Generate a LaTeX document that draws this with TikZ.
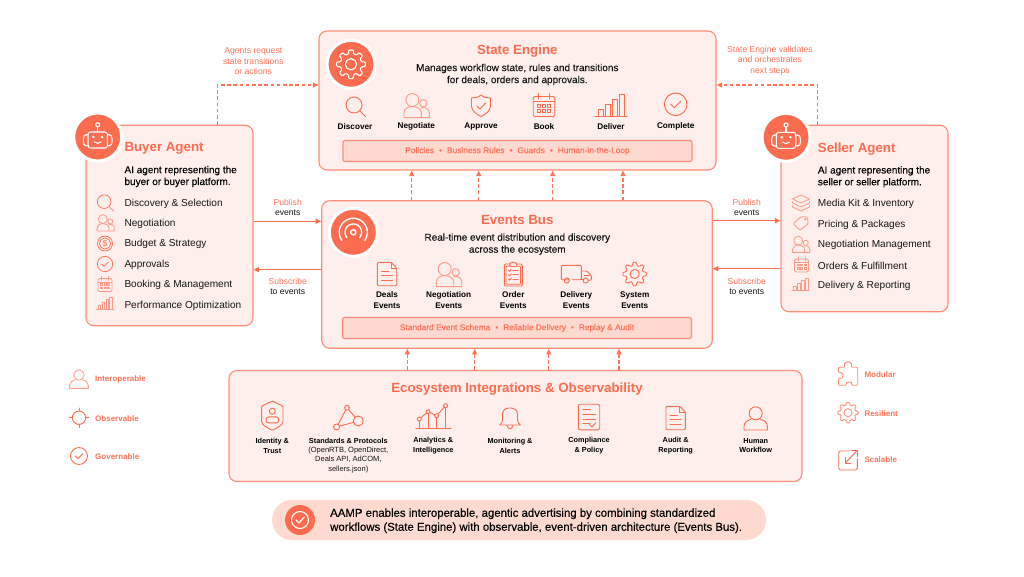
\documentclass[tikz,border=0pt]{standalone}
\usepackage{fontspec}
\setmainfont{Liberation Sans}
\newfontfamily\fmed[FakeBold=.22]{Liberation Sans}
\usetikzlibrary{arrows.meta}
\definecolor{coral}{HTML}{FC6C4E}
\definecolor{coraltxt}{HTML}{FF7358}
\definecolor{boxline}{HTML}{FF8E78}
\definecolor{boxfill}{HTML}{FEEEEC}
\definecolor{barfill}{HTML}{FDD9D0}
\definecolor{lite}{HTML}{FF9B86}
\definecolor{inkc}{HTML}{161616}
\definecolor{dashc}{HTML}{FF7558}
\tikzset{
 box/.style={draw=boxline,fill=boxfill,line width=1.1pt,rounded corners=8pt,inner sep=0pt},
 barbox/.style={draw=boxline,fill=barfill,line width=1.1pt,rounded corners=2pt,inner sep=0pt,text=coraltxt,font=\fontsize{8.35}{10}\selectfont\fmed},
 disc/.style={circle,fill=coral,draw=white,line width=3pt,minimum size=48pt,inner sep=0pt},
 ttl/.style={inner sep=0pt,yshift=-1.5pt,text=coral,font=\fontsize{13.3}{15}\selectfont\bfseries},
 desc/.style={inner sep=0pt,yshift=-.8pt,align=center,text=inkc,font=\fontsize{10}{12}\selectfont\fmed},
 descb/.style={inner sep=0pt,yshift=-.6pt,align=left,anchor=west,text=black,font=\fontsize{10}{11.8}\selectfont\fmed},
 item/.style={inner sep=0pt,yshift=-1.2pt,anchor=west,text=inkc,font=\fontsize{10.1}{12}\selectfont},
 lab/.style={inner sep=0pt,yshift=-.7pt,align=center,text=black,font=\fontsize{8.2}{11}\selectfont\bfseries},
 elab/.style={inner sep=0pt,yshift=-.7pt,align=center,text=black,font=\fontsize{7.3}{9.4}\selectfont\bfseries},
 esub/.style={inner sep=0pt,yshift=-.7pt,align=center,text=inkc,font=\fontsize{7.5}{9.4}\selectfont},
 note/.style={inner sep=0pt,yshift=-1pt,align=center,text=coraltxt,font=\fontsize{8.6}{10.3}\selectfont},
 blk/.style={inner sep=0pt,yshift=-1pt,align=center,text=inkc,font=\fontsize{8.6}{10.3}\selectfont},
 leg/.style={inner sep=0pt,yshift=-.5pt,anchor=west,text=coraltxt,font=\fontsize{8}{10}\selectfont\bfseries},
 ico/.style={color=coral,line width=.9pt,line join=round,line cap=round},
 lico/.style={color=lite,line width=.8pt,line join=round,line cap=round},
 mico/.style={color=coral,line width=.7pt,line join=round,line cap=round},
 wico/.style={color=white,line width=1.1pt,line join=round,line cap=round},
 flow/.style={draw=coral,line width=.9pt,-{Triangle[length=5.5pt,width=5pt]}},
 dflow/.style={draw=dashc,line width=1.05pt,dash pattern=on 3.6pt off 2.6pt,-{Triangle[length=5.5pt,width=5pt]}},
 pics/icmag/.style={code={\draw (-1,-1) circle (8); \draw (5,5)--(10.5,10.5);}},
 pics/icpeople/.style={code={
   \draw (7,-1.7) circle (3.7);
   \draw (5,3) .. controls (6,2.4) and (8,2.4) .. (9.5,3) .. controls (12,4) and (13,5.5) .. (13,8) -- (13,12.6) -- (5,12.6);
   \draw (-4,-5) circle (6.5);
   \draw (-12.3,12.6) -- (-12.3,8) .. controls (-12.3,3.5) and (-8,1.5) .. (-4,1.5) .. controls (0,1.5) and (5,3.5) .. (5,8) -- (5,12.6) -- cycle;}},
 pics/icshield/.style={code={
   \draw (0,-10) .. controls (3,-7.5) and (6,-7) .. (9.5,-7) -- (9.5,1) .. controls (9.5,6) and (4,9.5) .. (0,11.5) .. controls (-4,9.5) and (-9.5,6) .. (-9.5,1) -- (-9.5,-7) .. controls (-6,-7) and (-3,-7.5) .. cycle;
   \draw (-4,1)--(-1,4)--(4.5,-2);}},
 pics/iccal/.style={code={
   \draw[rounded corners=1.5pt] (-10.8,-8.5) rectangle (10.8,11.5);
   \draw (-10.8,-3.2)--(10.8,-3.2);
   \draw (-5.5,-11.5)--(-5.5,-6); \draw (5.5,-11.5)--(5.5,-6);
   \foreach \u in {-6.8,-1.5,3.8}{\draw (\u,-.5) rectangle +(3,2.6); \draw (\u,4.8) rectangle +(3,2.6);}}},
 pics/icbars/.style={code={
   \draw (-16,11)--(16,11);
   \foreach \u/\v in {-13/4,-5.5/-1,1.7/-6,8.7/-10.7}{\draw (\u,11) -- (\u,\v) -- (\u+5.2,\v) -- (\u+5.2,11);}}},
 pics/iccheck/.style={code={\draw (0,0) circle (11.3); \draw (-5,0)--(-1.5,3.5)--(5,-3);}},
 pics/icgear/.style={code={
   \draw[rounded corners=1pt] (-14:10.6) foreach \a in {0,45,...,270}{ -- (\a-9:14.5) -- (\a+9:14.5) -- (\a+14:10.6) -- (\a+31:10.6)} -- (306:14.5) -- (324:14.5) -- (329:10.6) -- cycle;
   \draw (0,0) circle (5.6);}},
 pics/icrobot/.style={code={
   \draw[rounded corners=2.5pt] (-9.7,-5) rectangle (9.7,11);
   \draw[rounded corners=1.5pt] (-9.7,-2.3) -- (-13,-2.3) -- (-14.3,0) -- (-14.3,6.5) -- (-13,8.7) -- (-9.7,8.7);
   \draw[rounded corners=1.5pt] (9.7,-2.3) -- (13,-2.3) -- (14.3,0) -- (14.3,6.5) -- (13,8.7) -- (9.7,8.7);
   \draw (0,-5)--(0,-10.3); \draw (0,-12.3) circle (2);
   \fill (-4.3,0) circle (1.5); \fill (4.3,0) circle (1.5);
   \draw (-3.5,4.8) .. controls (-1.5,6.8) and (1.5,6.8) .. (3.5,4.8);}},
 pics/icwave/.style={code={
   \draw (0,0) circle (2.6);
   \draw plot[domain=-40:220,samples=40] ({8.3*cos(\x)},{-8.3*sin(\x)});
   \draw plot[domain=-35:215,samples=40] ({14*cos(\x)},{-14*sin(\x)});}},
 pics/icdoc/.style={code={
   \draw[rounded corners=1.2pt] (-9.7,-11.7) -- (4,-11.7) -- (9.7,-6) -- (9.7,11.7) -- (-9.7,11.7) -- cycle;
   \draw (4,-11.7)--(4,-6)--(9.7,-6);
   \draw (-5.5,-3)--(2,-3); \draw (-5.5,1.5)--(5.5,1.5); \draw (-5.5,6)--(5.5,6);}},
 pics/icclip/.style={code={
   \draw[rounded corners=1.2pt] (-9,-10) rectangle (9,12);
   \draw[rounded corners=.8pt] (-7.3,-7.8) rectangle (7.3,10.2);
   \draw[fill=boxfill,rounded corners=1pt] (-3.5,-9.5) -- (-3.5,-11) -- (-1.3,-11) -- (0,-12.6) -- (1.3,-11) -- (3.5,-11) -- (3.5,-7.5) -- (-3.5,-7.5) -- cycle;
   \foreach \v in {-3.5,.8,5.1}{\draw (-4.8,\v)--(-3.7,\v+1)--(-2,\v-1); \draw (-.5,\v)--(4.8,\v);}}},
 pics/ictruck/.style={code={
   \draw[rounded corners=1pt] (-7.2,5.7) -- (-15,5.7) -- (-15,-8.7) -- (5,-8.7) -- (5,5.7) -- (-4,5.7);
   \draw[rounded corners=1pt] (5,-3) -- (10.5,-3) -- (15,1.5) -- (15,6.2) -- (12,6.2);
   \draw (5,5.7)--(6.8,5.7);
   \draw (8,1)--(13,1);
   \draw (-9.5,6.5) circle (2.6); \draw (9.4,6.5) circle (2.6);}},
 pics/iclayers/.style={code={
   \draw (-8.5,-4) -- (0,-8) -- (8.5,-4) -- (0,0) -- cycle;
   \draw (-8.5,-1.5) -- (-8.5,0) -- (0,4) -- (8.5,0) -- (8.5,-1.5);
   \draw (-8.5,2.5) -- (-8.5,4) -- (0,8) -- (8.5,4) -- (8.5,2.5);}},
 pics/ictag/.style={code={
   \draw[rounded corners=1.2pt] (0,-6.7) -- (6.3,-6.7) -- (7.3,0) -- (-1,6.7) -- (-7.7,0) -- cycle;
   \draw (4.3,-4.3) circle (.9);}},
 pics/icdollar/.style={code={
   \draw (0,0) circle (7.5); \draw (0,0) circle (5.6);
   \node[inner sep=0pt,font=\fontsize{8.5}{9}\selectfont] (dlr) at (0,0) {\$};}},
 pics/icid/.style={code={
   \draw[rounded corners=1pt] (0,-14.7) -- (10.7,-9.5) -- (10.7,5) .. controls (10.7,9) and (5,12) .. (0,14.7) .. controls (-5,12) and (-10.7,9) .. (-10.7,5) -- (-10.7,-9.5) -- cycle;
   \draw (0,-4.5) circle (3);
   \draw[rounded corners=2.5pt] (-6.3,7.2) -- (-6.3,1.2) -- (6.3,1.2) -- (6.3,7.2) -- cycle;}},
 pics/icgraph/.style={code={
   \draw (-1.3,-10)--(10,3.3)--(-11.7,9.3)--cycle;
   \draw[fill=boxfill] (-1.3,-10) circle (2.4);
   \draw[fill=boxfill] (10,3.3) circle (5);
   \draw[fill=boxfill] (-11.7,9.3) circle (3);}},
 pics/icchart/.style={code={
   \draw (-17.5,11.7)--(17.5,11.7);
   \foreach \u/\v in {-14/2.3,-5.3/-5,3.3/-1,12.3/-11}{\draw (\u,\v)--(\u,11.7);}
   \draw (-14,2.3)--(-5.3,-5)--(3.3,-1)--(12.3,-11);
   \foreach \u/\v in {-14/2.3,-5.3/-5,3.3/-1,12.3/-11}{\draw[fill=boxfill] (\u,\v) circle (2);}}},
 pics/icbell/.style={code={
   \draw (-3,7) .. controls (-2.5,12) and (2.5,12) .. (3,7);
   \draw[fill=boxfill,rounded corners=1pt] (-11,7) .. controls (-7,5) and (-7.5,0) .. (-7.5,-3) .. controls (-7.5,-8) and (-4,-10) .. (0,-10) .. controls (4,-10) and (7.5,-8) .. (7.5,-3) .. controls (7.5,0) and (7,5) .. (11,7) -- cycle;}},
 pics/iccomp/.style={code={
   \draw[rounded corners=2pt] (-10.7,-12.8) rectangle (10.7,12.8);
   \draw (-6.3,-7.2)--(1.5,-7.2); \draw (-6.3,-2.5)--(6.5,-2.5); \draw (-6.3,2)--(6.5,2); \draw (-6.3,6.5)--(.5,6.5);
   \draw (.5,7.5)--(3,10)--(6.8,5.7);}},
 pics/icperson/.style={code={
   \draw (0,-5) circle (6.5);
   \draw (-4.5,.8) .. controls (-8,2) and (-11.7,4) .. (-11.7,8) -- (-11.7,11.7) -- (11.7,11.7) -- (11.7,8) .. controls (11.7,4) and (8,2) .. (4.5,.8);}},
 pics/icpuzzle/.style={code={
   \draw[rounded corners=1pt] (-9.7,-6.5) -- (-3,-6.5) .. controls (-5.5,-13.5) and (5.5,-13.5) .. (3,-6.5) -- (9.7,-6.5) -- (9.7,11.5) -- (3.5,11.5) .. controls (5,7.5) and (-3,7.5) .. (-1.5,11.5) -- (-9.7,11.5) -- (-9.7,4.5) .. controls (-3.5,6) and (-3.5,-2.5) .. (-9.7,-1) -- cycle;}},
 pics/icscale/.style={code={
   \draw[rounded corners=1.5pt] (1.5,-9.5) -- (-9.3,-9.5) -- (-9.3,9.5) -- (9.3,9.5) -- (9.3,-1.5);
   \draw (-2.5,2.5)--(9,-10);
   \draw (3,-10)--(9,-10)--(9,-4);
   \draw (-2.5,-3)--(-2.5,2.5)--(3,2.5);}},
 pics/ictarget/.style={code={
   \draw (0,0) circle (6.7);
   \draw (0,-9.7)--(0,-6.7); \draw (0,6.7)--(0,9.7); \draw (-9.7,0)--(-6.7,0); \draw (6.7,0)--(9.7,0);}},
}
\begin{document}
\begin{tikzpicture}[x=1pt,y=-1pt]
\useasboundingbox (0,0) rectangle (1024,576);
\fill[white] (0,0) rectangle (1024,576);
% main boxes
\node[box,minimum width=397pt,minimum height=139pt] (state) at (517.5,100.5) {};
\node[box,minimum width=390.5pt,minimum height=147.5pt] (bus) at (517,274.5) {};
\node[box,minimum width=167pt,minimum height=200.5pt] (buyer) at (169.5,225.5) {};
\node[box,minimum width=167pt,minimum height=186.5pt] (seller) at (864.5,218.5) {};
\node[box,minimum width=573pt,minimum height=111pt] (eco) at (515.5,426) {};
\node[barbox,minimum width=349pt,minimum height=21pt] (pbar) at (517.5,151) {\raisebox{-.7pt}{Policies\hspace{5pt}•\hspace{5pt}Business Rules\hspace{5pt}•\hspace{5pt}Guards\hspace{5pt}•\hspace{5pt}Human-in-the-Loop}};
\node[barbox,minimum width=349pt,minimum height=21pt] (ebar) at (517,328) {\raisebox{-.7pt}{Standard Event Schema\hspace{5pt}•\hspace{5pt}Reliable Delivery\hspace{5pt}•\hspace{5pt}Replay \& Audit}};
\node[fill=barfill,rounded corners=20pt,minimum width=494pt,minimum height=40pt,inner sep=0pt] (pill) at (519,520) {};
% connector bends and guide coordinates
\coordinate (bbend) at (217.3,85);
\coordinate (sbend) at (817.7,85);
\draw[dflow] (buyer.north -| bbend) -- (bbend) -- (state.west |- bbend);
\draw[dflow] (seller.north -| sbend) -- (sbend) -- (state.east |- sbend);
\foreach \u/\n in {411.7/a,478.7/b,552.7/c,623/d}{\coordinate (up\n) at (\u,185); \draw[dflow] (bus.north -| up\n) -- (state.south -| up\n);}
\foreach \u/\n in {407.3/a,474.7/b,548.7/c,619/d}{\coordinate (lo\n) at (\u,360); \draw[dflow] (eco.north -| lo\n) -- (bus.south -| lo\n);}
\coordinate (pl) at (280,221.3); \coordinate (sl) at (280,269.7);
\coordinate (pr) at (745,220.7); \coordinate (sr) at (745,268.7);
\draw[flow] (buyer.east |- pl) -- (bus.west |- pl);
\draw[flow] (bus.west |- sl) -- (buyer.east |- sl);
\draw[flow] (bus.east |- pr) -- (seller.west |- pr);
\draw[flow] (seller.west |- sr) -- (bus.east |- sr);
% discs
\node[disc] (dbuyer) at (97.7,137) {};
\node[disc] (dseller) at (786,137.3) {};
\node[disc] (dstate) at (351,64.3) {};
\node[disc] (dbus) at (353.3,232.3) {};
\node[circle,fill=coral,minimum size=30pt,inner sep=0pt] (dpill) at (300,520) {};
\pic[wico] at (97.7,137) {icrobot};
\pic[wico] at (786,137.3) {icrobot};
\pic[wico] at (351,64.3) {icgear};
\pic[wico,line width=1.4pt] at (353.3,232.3) {icwave};
\draw[white,line width=1.1pt,line cap=round,line join=round] (dpill) circle (8.5);
\draw[white,line width=1.1pt,line cap=round,line join=round] ([shift={(-4,0)}]dpill.center) -- ([shift={(-1,3)}]dpill.center) -- ([shift={(4.2,-3)}]dpill.center);
% state engine
\node[ttl] (t1) at (517.3,49.3) {State Engine};
\node[desc] (d1) at (517.3,73.7) {Manages workflow state, rules and transitions\\for deals, orders and approvals.};
\pic[ico] at (355,106) {icmag};
\pic[ico,color=lite] at (416.3,105) {icpeople};
\pic[ico] at (481,105) {icshield};
\pic[ico] at (544,105) {iccal};
\pic[ico] at (611,105) {icbars};
\pic[ico] at (675.7,104.3) {iccheck};
\node[lab] (s1) at (355,125.7) {Discover};
\node[lab] (s2) at (416.3,125.7) {Negotiate};
\node[lab] (s3) at (481,125.7) {Approve};
\node[lab] (s4) at (544,125.7) {Book};
\node[lab] (s5) at (611,125.7) {Deliver};
\node[lab] (s6) at (675.7,125.7) {Complete};
% events bus
\node[ttl] (t2) at (517.3,218.3) {Events Bus};
\node[desc] (d2) at (517.3,243.3) {Real-time event distribution and discovery\\across the ecosystem};
\pic[ico] at (387,274) {icdoc};
\pic[ico,color=lite] at (448.7,274) {icpeople};
\pic[ico] at (513.3,274) {icclip};
\pic[ico] at (576.3,274) {ictruck};
\pic[ico,scale=.82] at (634.7,274) {icgear};
\node[lab] (e1) at (387,299.5) {Deals\\Events};
\node[lab] (e2) at (448.7,299.5) {Negotiation\\Events};
\node[lab] (e3) at (513.3,299.5) {Order\\Events};
\node[lab] (e4) at (576.3,299.5) {Delivery\\Events};
\node[lab] (e5) at (634.7,299.5) {System\\Events};
% buyer
\node[ttl,anchor=west] (t3) at (124.3,146.7) {Buyer Agent};
\node[descb] (d3) at (124.3,175.9) {AI agent representing the\\buyer or buyer platform.};
\node[item] (b1) at (124.3,202.3) {Discovery \& Selection};
\node[item] (b2) at (124.3,222.7) {Negotiation};
\node[item] (b3) at (124.3,243) {Budget \& Strategy};
\node[item] (b4) at (124.3,263.7) {Approvals};
\node[item] (b5) at (124.3,284) {Booking \& Management};
\node[item] (b6) at (124.3,304.7) {Performance Optimization};
\pic[mico,color=coral,scale=.85] at (105,202.5) {icmag};
\pic[lico,scale=.68] at (105.5,222.5) {icpeople};
\pic[mico] at (105,243.5) {icdollar};
\pic[mico,scale=.68] at (105,264) {iccheck};
\pic[lico,scale=.65] at (105,284) {iccal};
\pic[lico,scale=.54] at (105,303) {icbars};
% seller
\node[ttl,anchor=west] (t4) at (817.7,147.3) {Seller Agent};
\node[descb] (d4) at (817.7,176.2) {AI agent representing the\\seller or seller platform.};
\node[item] (c1) at (817.7,202.7) {Media Kit \& Inventory};
\node[item] (c2) at (817.7,223.3) {Pricing \& Packages};
\node[item] (c3) at (817.7,243.7) {Negotiation Management};
\node[item] (c4) at (817.7,264.3) {Orders \& Fulfillment};
\node[item] (c5) at (817.7,284.7) {Delivery \& Reporting};
\pic[lico] at (801,203) {iclayers};
\pic[lico] at (801,223.5) {ictag};
\pic[lico,scale=.68] at (801,244) {icpeople};
\pic[lico,scale=.65] at (801.5,264.5) {iccal};
\pic[lico,scale=.54] at (800.5,284) {icbars};
% connector notes
\node[note] (n1) at (253.3,60.3) {Agents request\\state transitions\\or actions};
\node[note] (n2) at (770,59.7) {State Engine validates\\and orchestrates\\next steps};
\node[note] (n3) at (287.7,201.7) {Publish};
\node[blk] (n4) at (287.7,212) {events};
\node[note] (n5) at (287.7,280.7) {Subscribe};
\node[blk] (n6) at (287.7,291) {to events};
\node[note] (n7) at (746.7,201) {Publish};
\node[blk] (n8) at (746.7,211.7) {events};
\node[note] (n9) at (746.7,280.3) {Subscribe};
\node[blk] (n10) at (746.7,290.7) {to events};
% ecosystem
\node[ttl,font=\fontsize{13.3}{16}\selectfont\bfseries] (t5) at (517,387.3) {Ecosystem Integrations \& Observability};
\pic[ico] at (272.3,415.7) {icid};
\pic[ico] at (348.3,417.7) {icgraph};
\pic[ico] at (433.3,416.7) {icchart};
\pic[ico] at (510,418) {icbell};
\pic[ico] at (589,417) {iccomp};
\pic[ico] at (675.7,418) {icdoc};
\pic[ico] at (755.7,418.3) {icperson};
\node[elab] (f1) at (272.3,445) {Identity \&\\Trust};
\node[elab] (f2) at (348.3,440.3) {Standards \& Protocols};
\node[esub] (f2b) at (348.3,459) {(OpenRTB, OpenDirect,\\Deals API, AdCOM,\\sellers.json)};
\node[elab] (f3) at (433.3,445) {Analytics \&\\Intelligence};
\node[elab] (f4) at (510,445) {Monitoring \&\\Alerts};
\node[elab] (f5) at (589,445) {Compliance\\\& Policy};
\node[elab] (f6) at (675.7,445) {Audit \&\\Reporting};
\node[elab] (f7) at (755.7,445) {Human\\Workflow};
% legends
\pic[lico,scale=.8] at (79,379) {icperson};
\pic[ico] at (79,417.7) {ictarget};
\pic[ico,scale=.75] at (79,456) {iccheck};
\node[leg] (l1) at (95,379) {Interoperable};
\node[leg] (l2) at (95,417.7) {Observable};
\node[leg] (l3) at (95,456) {Governable};
\pic[ico,color=boxline] at (848,373.7) {icpuzzle};
\pic[ico,color=boxline,scale=.72] at (848,412.7) {icgear};
\pic[ico] at (848,460.5) {icscale};
\node[leg] (r1) at (864.3,373.7) {Modular};
\node[leg] (r2) at (864.3,412.7) {Resilient};
\node[leg] (r3) at (864.3,459) {Scalable};
% bottom message
\node[inner sep=0pt,yshift=-.5pt,align=left,anchor=west,text=black,font=\fontsize{11.4}{14}\selectfont\fmed] (msg) at (330,520.3) {AAMP enables interoperable, agentic advertising by combining standardized\\workflows (State Engine) with observable, event-driven architecture (Events Bus).};
\end{tikzpicture}
\end{document}
